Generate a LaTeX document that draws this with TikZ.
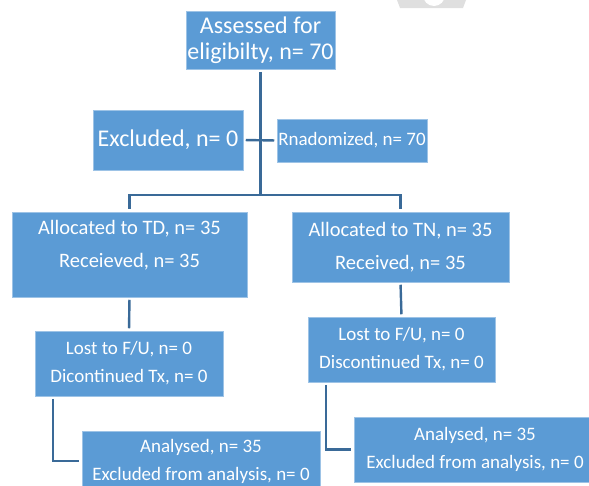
\documentclass[tikz,border=0pt]{standalone}
\usepackage{fontspec}
\setmainfont{Carlito}
\definecolor{boxblue}{HTML}{5B9BD5}
\definecolor{boxedge}{HTML}{9DC3E6}
\definecolor{lineblue}{HTML}{3A6A98}
\begin{document}
\begin{tikzpicture}[x=1pt, y=-1pt,
  box/.style={fill=boxblue, draw=boxedge, line width=0.5pt, text=white, align=center, inner sep=0pt},
  link/.style={lineblue, line width=2.4pt, shorten <=2.5pt, shorten >=2.5pt}]
\useasboundingbox (0,0) rectangle (589,485);
% faint mark cut off at the top
\fill[gray!25] (397,0) -- (466,0) -- (463,8) -- (400,8) -- cycle;
\fill[white] (434,-5) circle[radius=11];

\node[box, minimum width=149pt, minimum height=58pt, font=\fontsize{24}{26.5}\selectfont] (assess) at (260.5,40) {Assessed for\\eligibilty, n= 70};
\node[box, minimum width=150pt, minimum height=60pt, font=\fontsize{24}{29}\selectfont] (excl) at (168,140) {Excluded, n= 0};
\node[box, minimum width=150pt, minimum height=43pt, font=\fontsize{19}{23}\selectfont] (rand) at (352,140.5) {Rnadomized, n= 70};

\node[box, minimum width=235pt, minimum height=85pt, text depth=22pt, font=\fontsize{20.5}{33}\selectfont] (td) at (129.5,254.5) {Allocated to TD, n= 35\\Receieved, n= 35};
\node[box, minimum width=217pt, minimum height=70pt, font=\fontsize{20.5}{33}\selectfont] (tn) at (400.5,247) {Allocated to TN, n= 35\\Received, n= 35};

\node[box, minimum width=188pt, minimum height=65pt, font=\fontsize{19}{28}\selectfont] (tdlost) at (129,363.5) {Lost to F/U, n= 0\\Dicontinued Tx, n= 0};
\node[box, minimum width=187pt, minimum height=65pt, font=\fontsize{19}{28}\selectfont] (tnlost) at (401.5,349.5) {Lost to F/U, n= 0\\Discontinued Tx, n= 0};

\node[box, minimum width=238pt, minimum height=60pt, font=\fontsize{19}{28}\selectfont] (tdan) at (201,461) {Analysed, n= 35\\Excluded from analysis, n= 0};
\node[box, minimum width=242pt, minimum height=65pt, font=\fontsize{19}{28}\selectfont] (tnan) at (475,449.5) {Analysed, n= 35\\Excluded from analysis, n= 0};

\coordinate (split) at (260.5,195);
\draw[link, shorten >=0pt] (assess.south) -- (split);
\draw[link, shorten <=0pt] (split) -| (td.north);
\draw[link, shorten <=0pt] (split) -| (tn.north);
\draw[link] (excl.east) -- (rand.west);
\draw[link] (td.south) -- (tdlost.north);
\draw[link] (tn.south) -- (tnlost.north);
\draw[link] ([xshift=18pt]tdlost.south west) |- (tdan.west);
\draw[link] ([xshift=18pt]tnlost.south west) |- (tnan.west);
\end{tikzpicture}
\end{document}
